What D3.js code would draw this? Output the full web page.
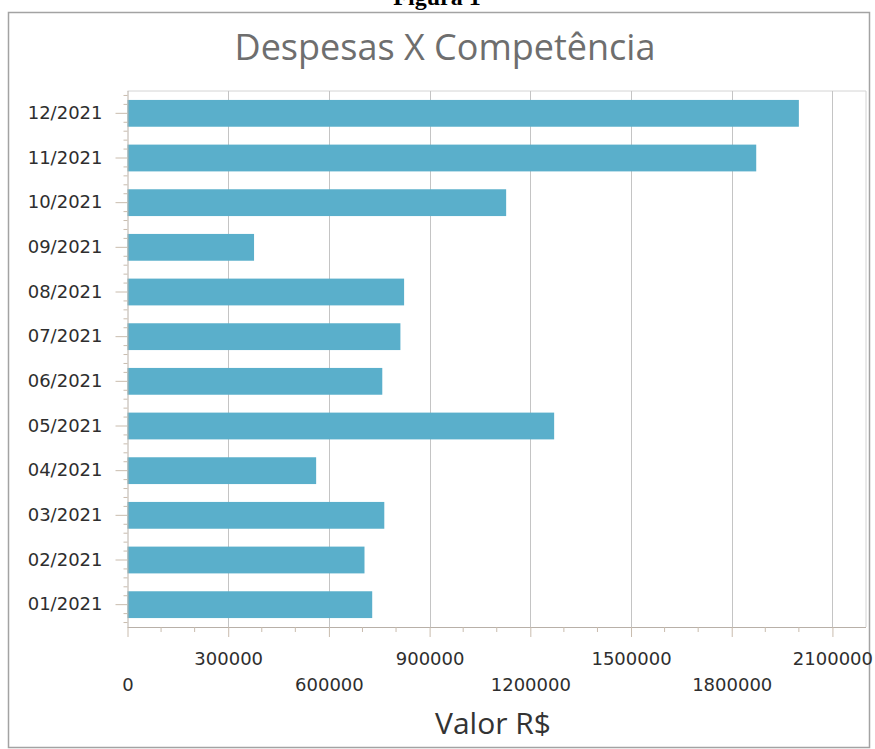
<!DOCTYPE html>
<html lang="pt">
<head>
    <meta charset="UTF-8">
    <title>Despesas X Competência</title>
    <script src="https://d3js.org/d3.v7.min.js"></script>
    <style>
        body { margin: 0; background: #fff; }
        svg { display: block; }
        .tick text { font-family: "DejaVu Sans", Verdana, sans-serif; font-size: 18px; fill: #2e2e2e; }
    </style>
</head>
<body>
    <div id="chart"></div>

    <script>
        // Dados
        const competencias = ["12/2021", "11/2021", "10/2021", "09/2021", "08/2021", "07/2021",
                              "06/2021", "05/2021", "04/2021", "03/2021", "02/2021", "01/2021"];
        const valores = [2000000, 1873000, 1128000, 377000, 824000, 813000,
                         759000, 1271000, 562000, 765000, 706000, 729000];
        const xTicks = [0, 300000, 600000, 900000, 1200000, 1500000, 1800000, 2100000];

        const W = 875, H = 749;
        const plot = { left: 127.5, right: 866, top: 91, bottom: 627 };

        const svg = d3.select("#chart").append("svg")
            .attr("width", W)
            .attr("height", H);

        // "Figura 1" cortado no topo, como na figura original
        svg.append("text")
            .attr("x", 437).attr("y", 5)
            .attr("text-anchor", "middle")
            .style("font-family", "'Liberation Serif', 'Times New Roman', serif")
            .style("font-weight", "bold")
            .style("font-size", "24px")
            .text("Figura 1");

        // moldura
        svg.append("rect")
            .attr("x", 8.5).attr("y", 12.5)
            .attr("width", 861).attr("height", 735)
            .attr("fill", "#fff")
            .attr("stroke", "#a3a3a3")
            .attr("stroke-width", 1.5);

        // Escalas
        const x = d3.scaleLinear().domain([0, 2200000]).range([plot.left, plot.right]);
        const y = d3.scaleBand().domain(competencias).range([plot.top, plot.bottom])
            .paddingInner(0.4).paddingOuter(0.2);

        // borda da área do gráfico
        svg.append("path")
            .attr("d", `M${plot.left},${plot.top}H${plot.right}V${plot.bottom}`)
            .attr("fill", "none")
            .attr("stroke", "#d4d4d4");

        // grade vertical
        svg.append("g").selectAll("line")
            .data(xTicks.slice(1))
            .join("line")
            .attr("x1", d => Math.round(x(d)) + 0.5).attr("x2", d => Math.round(x(d)) + 0.5)
            .attr("y1", plot.top).attr("y2", plot.bottom)
            .attr("stroke", "#c4c4c4");

        // barras
        svg.append("g").selectAll("rect")
            .data(competencias)
            .join("rect")
            .attr("x", x(0))
            .attr("y", d => y(d))
            .attr("width", (d, i) => x(valores[i]) - x(0))
            .attr("height", y.bandwidth())
            .attr("fill", "#5aafcb");

        // eixo X
        const tickColor = "#c9bcae";
        const gx = svg.append("g")
            .attr("transform", `translate(0,${plot.bottom})`)
            .call(d3.axisBottom(x).tickValues(xTicks).tickSize(10).tickFormat(d3.format("d")));
        gx.select(".domain").attr("stroke", "#b8b0a8").attr("d", `M${plot.left},0.5H${plot.right}`);
        gx.selectAll(".tick line").attr("stroke", tickColor);
        gx.selectAll(".tick text")
            .attr("dy", 0)
            .attr("y", (d, i) => i % 2 === 0 ? 64 : 38);

        // ticks menores X
        svg.append("g").selectAll("line")
            .data(d3.range(100000, 2200000, 100000).filter(v => v % 300000 !== 0))
            .join("line")
            .attr("x1", d => x(d)).attr("x2", d => x(d))
            .attr("y1", plot.bottom).attr("y2", plot.bottom + 5)
            .attr("stroke", tickColor);

        // eixo Y
        const gy = svg.append("g")
            .attr("transform", `translate(${plot.left},0)`)
            .call(d3.axisLeft(y).tickSize(12).tickPadding(13));
        gy.select(".domain").attr("stroke", "#b8b0a8").attr("d", `M0.5,${plot.top}V${plot.bottom}`);
        gy.selectAll(".tick line").attr("stroke", tickColor);

        // ticks menores Y
        const minorY = [];
        competencias.forEach(c => {
            const start = y(c) - y.step() * 0.2;
            for (let k = 0; k < 5; k++) if (k !== 2) minorY.push(start + (k + 0.5) * y.step() / 5);
        });
        svg.append("g").selectAll("line")
            .data(minorY)
            .join("line")
            .attr("x1", plot.left - 4).attr("x2", plot.left)
            .attr("y1", d => d).attr("y2", d => d)
            .attr("stroke", tickColor);

        // títulos
        svg.append("text")
            .attr("x", 445).attr("y", 60)
            .attr("text-anchor", "middle")
            .style("font-family", "'Open Sans', 'Noto Sans', sans-serif")
            .style("font-size", "36px")
            .style("fill", "#6e6e6e")
            .text("Despesas X Competência");

        svg.append("text")
            .attr("x", 493).attr("y", 734)
            .attr("text-anchor", "middle")
            .style("font-family", "'Open Sans', 'Noto Sans', sans-serif")
            .style("font-size", "30px")
            .style("fill", "#333")
            .text("Valor R$");
    </script>
</body>
</html>
